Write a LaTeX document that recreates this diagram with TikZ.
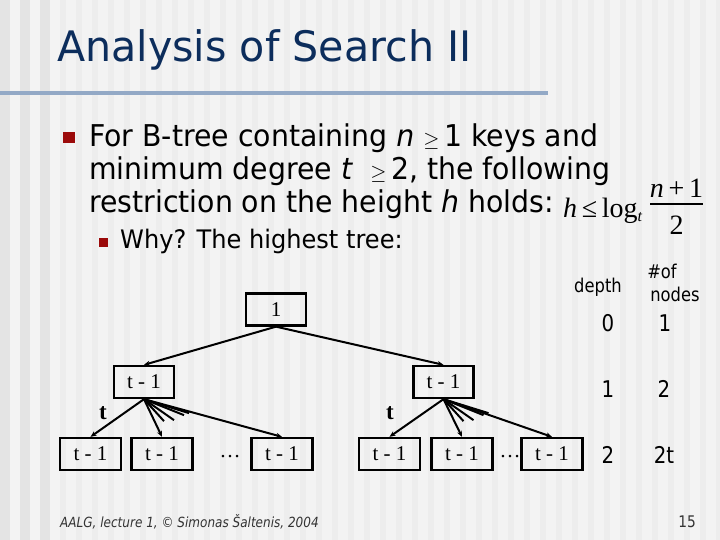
\documentclass[tikz,border=0pt]{standalone}
\usepackage[no-math]{fontspec}
\setmainfont{DejaVu Sans}[FakeStretch=0.86]
\newfontfamily\bodyf{DejaVu Sans}[FakeStretch=0.945]
\newfontfamily\titlef{DejaVu Sans}[FakeStretch=0.98]
\newfontfamily\tms{Liberation Serif}
\usetikzlibrary{arrows.meta,calc}
\definecolor{bgc}{HTML}{F3F3F3}
\definecolor{stripe}{HTML}{E4E4E4}
\definecolor{titlec}{HTML}{0C2D5C}
\definecolor{rulec}{HTML}{93A9C6}
\definecolor{bulletc}{HTML}{9B0A0A}
\definecolor{footc}{HTML}{333333}
\begin{document}
\begin{tikzpicture}[x=1pt,y=-1pt,
  keybox/.style={draw,line width=2.3pt,minimum width=60pt,minimum height=32pt,inner sep=0pt,
     font=\tms\fontsize{21}{23}\selectfont},
  edge/.style={line width=2pt,-{Stealth[length=6pt,width=5pt]}},
  fan/.style={line width=2pt},
  body/.style={anchor=base west,inner sep=0pt,font=\bodyf\fontsize{30}{34}\selectfont},
  col/.style={anchor=base,inner sep=0pt,font=\fontsize{19}{22}\selectfont},
  num/.style={anchor=base,inner sep=0pt,font=\fontsize{23}{26}\selectfont},
  tlab/.style={inner sep=0pt,font=\tms\bfseries\fontsize{23}{25}\selectfont},
  frm/.style={inner sep=0pt,font=\tms\fontsize{28}{30}\selectfont}]
\useasboundingbox (0,0) rectangle (720,540);
% background
\fill[bgc] (0,0) rectangle (720,540);
\foreach \xx in {0,20,40} {\fill[stripe] (\xx,0) rectangle ++(10,540);}
\foreach \xx in {60,76,...,720} {\fill[stripe!40!bgc] (\xx,0) rectangle ++(6,540);}
% title
\node[anchor=base west,inner sep=0pt,text=titlec,font=\titlef\fontsize{42}{48}\selectfont] (title) at (57,62) {Analysis of Search II};
\draw[rulec,line width=4pt] (0,93) -- (548,93);
% bullets
\fill[bulletc] (63,132) rectangle (75,143);
\node[body] (l1) at (89,147) {For B-tree containing {\itshape n} {\fontsize{20}{22}\selectfont$\geq$}\,1 keys and};
\node[body] (l2) at (89,180) {minimum degree {\itshape t} \ {\fontsize{20}{22}\selectfont$\geq$}\,2, the following};
\node[body] (l3) at (89,213) {restriction on the height {\itshape h} holds:};
% formula
\node[frm,anchor=base west] (fh) at (563,218) {\itshape h\,\upshape≤\,log\raisebox{-4pt}{\fontsize{16}{18}\selectfont\itshape t}};
\coordinate (barl) at (650,204);
\coordinate (barr) at (703,204);
\draw[line width=1.3pt] (barl) -- (barr);
\node[frm,anchor=base] (fnum) at (676.5,197) {\itshape n\upshape\,+\,1};
\node[frm,anchor=base] (fden) at (676.5,235) {2};
\fill[bulletc] (99,238) rectangle (108,247);
\node[anchor=base west,inner sep=0pt,font=\bodyf\fontsize{25.5}{29}\selectfont] (sub) at (120,248) {Why? The highest tree:};
% tree
\node[keybox] (root) at (276,309.5) {1};
\node[keybox] (L) at (144,382) {t - 1};
\node[keybox] (R) at (443.5,382) {t - 1};
\node[keybox,minimum width=61pt] (a1) at (90.5,454) {t - 1};
\node[keybox,minimum width=61pt] (a2) at (162,454) {t - 1};
\node[keybox,minimum width=61pt] (a3) at (282,454) {t - 1};
\node[keybox,minimum width=61pt] (b1) at (389.5,454) {t - 1};
\node[keybox,minimum width=61pt] (b2) at (462,454) {t - 1};
\node[keybox,minimum width=61pt] (b3) at (552,454) {t - 1};
\node[inner sep=0pt,font=\tms\fontsize{21}{23}\selectfont] (d1) at (230,457) {\dots};
\node[inner sep=0pt,font=\tms\fontsize{21}{23}\selectfont] (d2) at (510,457) {\dots};
\draw[edge] (root.south) -- (L.north);
\draw[edge] (root.south) -- (R.north);
\draw[edge] (L.south) -- (a1.north);
\draw[edge] (L.south) -- (a2.north);
\draw[edge] (L.south) -- (a3.north);
\draw[edge] (R.south) -- (b1.north);
\draw[edge] (R.south) -- (b2.north);
\draw[edge] (R.south) -- (b3.north);
\foreach \p in {L,R} {
  \coordinate (\p f1) at ($(\p.south)+(20,22)$);
  \coordinate (\p f2) at ($(\p.south)+(30,21)$);
  \coordinate (\p f3) at ($(\p.south)+(40,16)$);
  \coordinate (\p f4) at ($(\p.south)+(45,14)$);
  \foreach \k in {1,2,3,4} {\draw[fan] (\p.south) -- (\p f\k);}
}
\node[tlab] (tl) at (103,413) {t};
\node[tlab] (tr) at (390,413) {t};
% right columns
\node[col] (depth) at (598,292) {depth};
\node[col] (hof) at (662,278) {\#of};
\node[col] (nodes) at (675,301) {nodes};
\node[num] (r0d) at (608,331) {0};
\node[num] (r0n) at (665,331) {1};
\node[num] (r1d) at (608,397) {1};
\node[num] (r1n) at (664,397) {2};
\node[num] (r2d) at (608,463) {2};
\node[num] (r2n) at (664,463) {2t};
% footer
\node[anchor=base west,inner sep=0pt,text=footc,font=\itshape\fontsize{14}{16}\selectfont] (foot) at (60,527) {AALG, lecture 1, © Simonas Šaltenis, 2004};
\node[anchor=base,inner sep=0pt,text=footc,font=\fontsize{16}{18}\selectfont] (page) at (687,527) {15};
\end{tikzpicture}
\end{document}
